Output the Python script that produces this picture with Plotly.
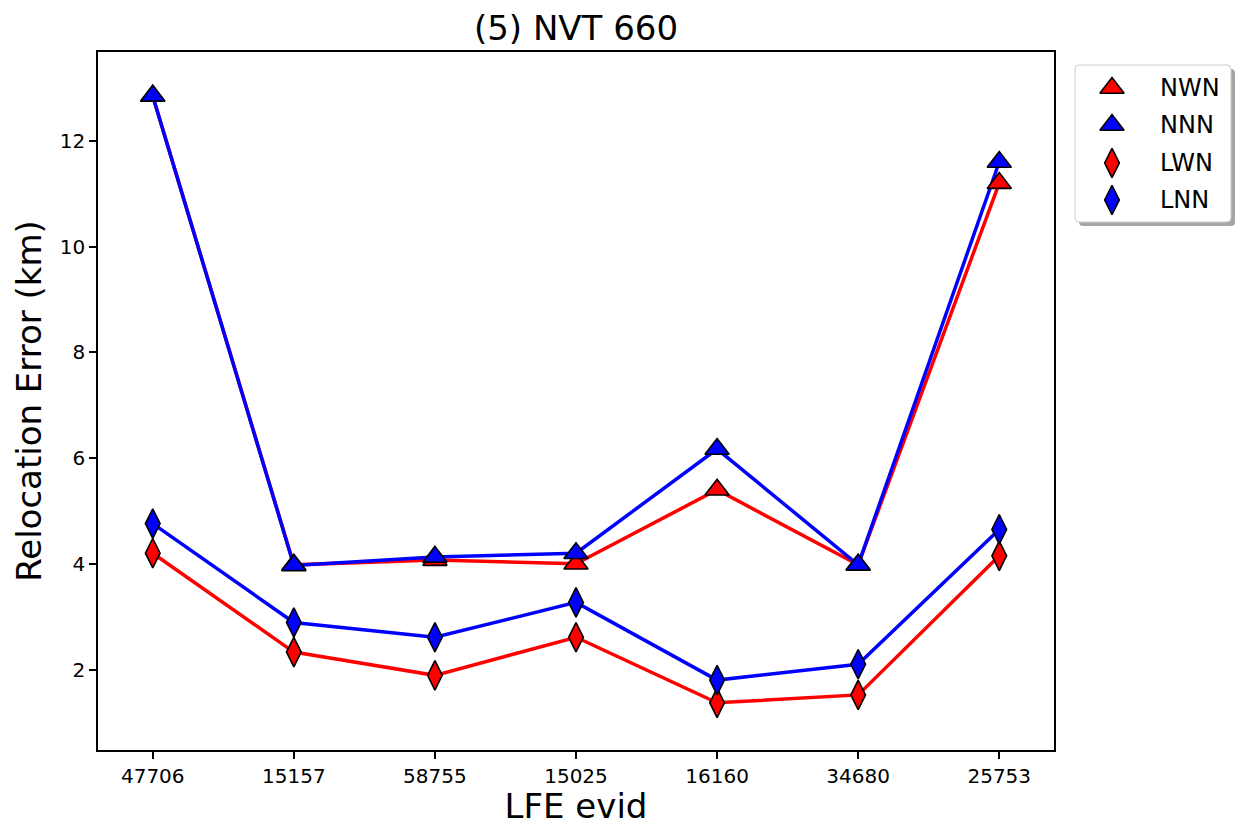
import plotly.graph_objects as go

# LFE event ids along the x axis
evids = ["47706", "15157", "58755", "15025", "16160", "34680", "25753"]

# Relocation error (km) per method
nwn = [12.85, 3.98, 4.07, 4.00, 5.40, 3.98, 11.20]
nnn = [12.85, 3.97, 4.13, 4.20, 6.17, 3.98, 11.60]
lwn = [4.20, 2.33, 1.89, 2.61, 1.37, 1.52, 4.15]
lnn = [4.76, 2.89, 2.61, 3.27, 1.80, 2.10, 4.65]

RED = "#ff0000"
BLUE = "#0000ff"
FONT = "DejaVu Sans"

series = [
    ("NWN", nwn, RED, "triangle-up", 21),
    ("NNN", nnn, BLUE, "triangle-up", 21),
    ("LWN", lwn, RED, "diamond-tall", 21),
    ("LNN", lnn, BLUE, "diamond-tall", 21),
]

# page geometry (pixels)
W, H = 1236, 826
L, T, B = 98, 52, 76
PLOT_R = 1054
PW = W - L                      # width available to the axes domains
PH = H - T - B
main_right = (PLOT_R - L) / PW

fig = go.Figure()

# connecting lines first, then the markers on top
for name, vals, col, sym, sz in series:
    fig.add_trace(go.Scatter(
        x=evids, y=vals, mode="lines",
        line=dict(color=col, width=3.5),
        showlegend=False, hoverinfo="skip",
    ))

for name, vals, col, sym, sz in series:
    fig.add_trace(go.Scatter(
        x=evids, y=vals, mode="markers", name=name,
        marker=dict(symbol=sym, size=sz, color=col,
                    line=dict(color="black", width=1.6)),
        showlegend=False,
    ))

# ---- legend panel drawn on its own pixel-scaled axes ----
LX0, LX1, LY0, LY1 = 1070, 1236, 60, 232
box = dict(x0=1075, x1=1231, y0=65, y1=222)
row_y = [88, 125, 163, 200]
mark_x = 1112
text_x = 1158


def rounded(x0, y0, x1, y1, r):
    return (f"M{x0+r},{y0} L{x1-r},{y0} Q{x1},{y0} {x1},{y0+r} "
            f"L{x1},{y1-r} Q{x1},{y1} {x1-r},{y1} L{x0+r},{y1} "
            f"Q{x0},{y1} {x0},{y1-r} L{x0},{y0+r} Q{x0},{y0} {x0+r},{y0} Z")


fig.add_shape(type="path", xref="x2", yref="y2", layer="below",
              path=rounded(box["x0"] + 4, box["y0"] + 4,
                           box["x1"] + 4, box["y1"] + 4, 4),
              fillcolor="#a6a6a6", line=dict(width=0))
fig.add_shape(type="path", xref="x2", yref="y2", layer="below",
              path=rounded(box["x0"], box["y0"], box["x1"], box["y1"], 4),
              fillcolor="white", line=dict(color="#cccccc", width=1))

for (name, vals, col, sym, sz), ry in zip(series, row_y):
    fig.add_trace(go.Scatter(
        x=[mark_x], y=[ry], xaxis="x2", yaxis="y2", mode="markers",
        marker=dict(symbol=sym, size=sz, color=col,
                    line=dict(color="black", width=1.6)),
        showlegend=False, hoverinfo="skip", cliponaxis=False,
    ))
    fig.add_annotation(x=text_x, y=ry, xref="x2", yref="y2", text=name,
                       showarrow=False, xanchor="left", yanchor="middle",
                       font=dict(family=FONT, size=24, color="black"))

fig.update_layout(
    width=W, height=H,
    margin=dict(l=L, r=0, t=T, b=B),
    paper_bgcolor="white", plot_bgcolor="white",
    font=dict(family=FONT, color="black"),
    title=dict(text="(5) NVT 660", x=(L + PLOT_R) / 2 / W, xanchor="center",
               y=1 - 28 / H, yanchor="middle", font=dict(size=34)),
    showlegend=False,
    xaxis=dict(
        domain=[0, main_right],
        type="category", range=[-0.388, 6.388],
        title=dict(text="LFE evid", font=dict(size=34), standoff=6),
        showline=True, linecolor="black", linewidth=1.6, mirror=True,
        ticks="outside", ticklen=7, tickwidth=1.5, tickcolor="black",
        tickfont=dict(size=20), showgrid=False, zeroline=False,
    ),
    yaxis=dict(
        range=[0.478, 13.68],
        tickvals=[2, 4, 6, 8, 10, 12],
        title=dict(text="Relocation Error (km)", font=dict(size=34), standoff=8),
        showline=True, linecolor="black", linewidth=1.6, mirror=True,
        ticks="outside", ticklen=7, tickwidth=1.5, tickcolor="black",
        tickfont=dict(size=20), showgrid=False, zeroline=False,
    ),
    xaxis2=dict(
        domain=[(LX0 - L) / PW, 1.0], range=[LX0, LX1],
        visible=False, fixedrange=True, anchor="y2",
    ),
    yaxis2=dict(
        domain=[(H - B - LY1) / PH, (H - B - LY0) / PH], range=[LY1, LY0],
        visible=False, fixedrange=True, anchor="x2",
    ),
)

fig.write_html("out.html")
